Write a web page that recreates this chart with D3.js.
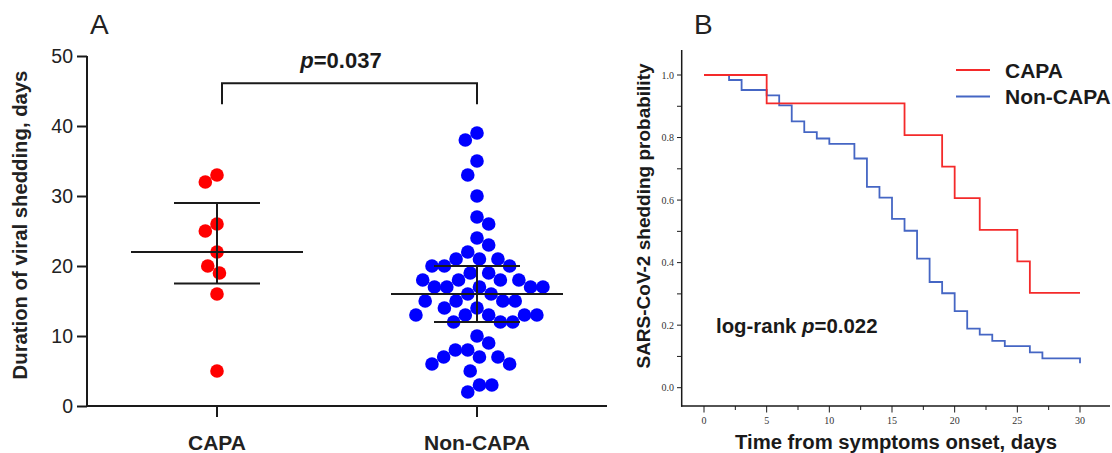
<!DOCTYPE html>
<html>
<head>
<meta charset="utf-8">
<script src="https://cdn.jsdelivr.net/npm/d3@7"></script>
<style>
  body { margin: 0; background: #fff; }
  text { font-family: 'Liberation Sans', Arial, sans-serif; }
</style>
</head>
<body>
<svg id="chart" width="1112" height="453"></svg>
<script>
// panel A: duration of viral shedding (days), one value per patient
var groups = ['CAPA', 'Non-CAPA']
var capaDays = [33, 32, 26, 25, 22, 20, 19, 16, 5]
var nonCapaDays = [39, 38, 35, 33, 30, 27, 26, 24, 23, 22,
  21, 21, 21, 20, 20, 20, 19, 19, 18, 18, 18, 18,
  17, 17, 17, 17, 17, 16, 16, 15, 15, 15, 15, 14, 14,
  13, 13, 13, 13, 13, 12, 12, 12, 10, 9, 8, 8, 7, 7, 7,
  6, 6, 5, 3, 3, 2]
var yTicksA = [0, 10, 20, 30, 40, 50]
var pValueA = '0.037'

// panel B: Kaplan-Meier steps (time in days, shedding probability)
var capaTime = [0, 5, 16, 19, 20, 22, 25, 26, 30]
var capaSurv = [1.0, 0.909, 0.808, 0.707, 0.606, 0.505, 0.404, 0.303, 0.303]
var nonCapaTime = [0, 2, 3, 5, 6, 7, 8, 9, 10, 12, 13, 14, 15, 16, 17, 18, 19, 20, 21, 22, 23, 24, 26, 27, 30]
var nonCapaSurv = [1.0, 0.984, 0.952, 0.935, 0.903, 0.852, 0.817, 0.797, 0.78, 0.733, 0.642, 0.608,
  0.54, 0.502, 0.413, 0.338, 0.302, 0.245, 0.189, 0.17, 0.15, 0.133, 0.113, 0.094, 0.078]
var xTicksB = [0, 5, 10, 15, 20, 25, 30]
var yTicksB = [0, 0.2, 0.4, 0.6, 0.8, 1.0]
var pValueB = '0.022'

var svg = d3.select('#chart')
var ink = '#1a1a1a'

// ---------- panel A ----------
var yA = d3.scaleLinear().domain([0, 50]).range([406, 56])
var xA = d3.scalePoint().domain(groups).range([217, 477])

var gA = svg.append('g')

var axisY = gA.append('g')
  .attr('transform', 'translate(87,0)')
  .call(d3.axisLeft(yA).tickValues(yTicksA).tickSize(10).tickSizeOuter(0).tickPadding(4))
axisY.selectAll('path, line').attr('stroke', ink).attr('stroke-width', 2)
axisY.selectAll('text').attr('fill', '#222').style('font-size', '19.5px')
axisY.select('.domain').attr('d', 'M0,' + (yA(0) + 1) + 'V' + yA(50))

gA.append('line')
  .attr('x1', 86).attr('x2', 607)
  .attr('y1', yA(0)).attr('y2', yA(0))
  .attr('stroke', ink).attr('stroke-width', 2)

gA.selectAll('.xtickA')
  .data(groups)
  .enter()
  .append('line')
  .attr('x1', function(d) { return xA(d) })
  .attr('x2', function(d) { return xA(d) })
  .attr('y1', yA(0))
  .attr('y2', yA(0) + 11)
  .attr('stroke', ink)
  .attr('stroke-width', 2)

gA.selectAll('.xlabA')
  .data(groups)
  .enter()
  .append('text')
  .attr('x', function(d) { return xA(d) })
  .attr('y', 450)
  .attr('text-anchor', 'middle')
  .style('font-size', '21px')
  .style('font-weight', 'bold')
  .attr('fill', '#222')
  .text(function(d) { return d })

gA.append('text')
  .attr('transform', 'translate(27,225) rotate(-90)')
  .attr('text-anchor', 'middle')
  .style('font-size', '20.3px')
  .style('font-weight', 'bold')
  .attr('fill', '#222')
  .text('Duration of viral shedding, days')

gA.append('text')
  .attr('x', 90).attr('y', 34)
  .style('font-size', '28px')
  .attr('fill', '#222')
  .text('A')

// beeswarm: each dot goes as close to the group centre as it can,
// rows a few days apart still push each other sideways (Prism-like spread)
var R = 6.8
var DX = 12.4
var DY = 21
function hits(dx, dy) {
  return (dx * dx) / (DX * DX) + (dy * dy) / (DY * DY) < 0.999
}
function swarm(values, cx) {
  var placed = []
  values.slice().sort(function(a, b) { return b - a }).forEach(function(v, i) {
    var y = yA(v)
    var cands = [0]
    placed.forEach(function(p) {
      var dy = Math.abs(p.y - y)
      if (dy < DY) {
        var dx = DX * Math.sqrt(1 - (dy * dy) / (DY * DY))
        cands.push(p.dx - dx, p.dx + dx)
      }
    })
    var side = i % 2 === 0 ? -1 : 1
    cands.sort(function(a, b) {
      var d = Math.abs(a) - Math.abs(b)
      if (Math.abs(d) > 0.01) return d
      return side * (a - b)
    })
    var best = cands.find(function(c) {
      return placed.every(function(p) { return !hits(p.dx - c, p.y - y) })
    })
    placed.push({ v: v, y: y, dx: best, x: cx + best })
  })
  return placed
}

// Prism-style quartiles (median of each half, excluding the median for odd n)
function quart(values) {
  var s = values.slice().sort(d3.ascending)
  var n = s.length
  var h = Math.floor(n / 2)
  return {
    med: d3.median(s),
    q1: d3.median(s.slice(0, h)),
    q3: d3.median(s.slice(n % 2 ? h + 1 : h))
  }
}

var groupData = [
  { name: 'CAPA', values: capaDays, color: '#ff0000' },
  { name: 'Non-CAPA', values: nonCapaDays, color: '#0000ff' }
]

groupData.forEach(function(g) {
  var cx = xA(g.name)
  gA.append('g')
    .selectAll('circle')
    .data(swarm(g.values, cx))
    .enter()
    .append('circle')
    .attr('cx', function(d) { return d.x })
    .attr('cy', function(d) { return d.y })
    .attr('r', R)
    .attr('fill', g.color)

  var q = quart(g.values)
  var st = gA.append('g').attr('stroke', ink).attr('stroke-width', 2)
  st.append('line').attr('x1', cx - 86).attr('x2', cx + 86).attr('y1', yA(q.med)).attr('y2', yA(q.med))
  st.append('line').attr('x1', cx - 43).attr('x2', cx + 43).attr('y1', yA(q.q1)).attr('y2', yA(q.q1))
  st.append('line').attr('x1', cx - 43).attr('x2', cx + 43).attr('y1', yA(q.q3)).attr('y2', yA(q.q3))
  st.append('line').attr('x1', cx).attr('x2', cx).attr('y1', yA(q.q1)).attr('y2', yA(q.q3))
})

// significance bracket
var bx1 = xA('CAPA') + 5, bx2 = xA('Non-CAPA')
gA.append('path')
  .attr('d', 'M' + bx1 + ',' + yA(43.1) + 'V' + yA(46.1) + 'H' + bx2 + 'V' + yA(43.1))
  .attr('fill', 'none')
  .attr('stroke', ink)
  .attr('stroke-width', 2)

var pt = gA.append('text')
  .attr('x', 341).attr('y', 68)
  .attr('text-anchor', 'middle')
  .style('font-size', '22px')
  .style('font-weight', 'bold')
  .attr('fill', '#1a1a1a')
pt.append('tspan').style('font-style', 'italic').text('p')
pt.append('tspan').text('=' + pValueA)

// ---------- panel B ----------
var xB = d3.scaleLinear().domain([0, 30]).range([704, 1080])
var yB = d3.scaleLinear().domain([0, 1]).range([387.7, 75])
var gB = svg.append('g')

var axB = gB.append('g').attr('stroke', ink).attr('stroke-width', 1.5)
axB.append('line').attr('x1', 681.7).attr('x2', 681.7).attr('y1', 50).attr('y2', 406.7)
axB.append('line').attr('x1', 681).attr('x2', 1110).attr('y1', 406).attr('y2', 406)

axB.selectAll('.ytB')
  .data(d3.range(0, 11).map(function(i) { return i / 10 }))
  .enter()
  .append('line')
  .attr('x1', 677).attr('x2', 681.7)
  .attr('y1', function(d) { return yB(d) })
  .attr('y2', function(d) { return yB(d) })
  .attr('stroke-width', 1)

axB.selectAll('.xtB')
  .data(d3.range(0, 13).map(function(i) { return i * 2.5 }))
  .enter()
  .append('line')
  .attr('x1', function(d) { return xB(d) })
  .attr('x2', function(d) { return xB(d) })
  .attr('y1', 406)
  .attr('y2', function(d) { return d % 5 === 0 ? 412.5 : 410 })
  .attr('stroke-width', 1)

gB.selectAll('.ylB')
  .data(yTicksB)
  .enter()
  .append('text')
  .attr('x', 674)
  .attr('y', function(d) { return yB(d) + 3.5 })
  .attr('text-anchor', 'end')
  .style('font-family', "'Liberation Serif', 'Times New Roman', serif")
  .style('font-size', '10px')
  .attr('fill', '#333')
  .text(d3.format('.1f'))

gB.selectAll('.xlB')
  .data(xTicksB)
  .enter()
  .append('text')
  .attr('x', function(d) { return xB(d) })
  .attr('y', 424)
  .attr('text-anchor', 'middle')
  .style('font-family', "'Liberation Serif', 'Times New Roman', serif")
  .style('font-size', '10px')
  .attr('fill', '#333')
  .text(function(d) { return d })

gB.append('text')
  .attr('transform', 'translate(650,216) rotate(-90)')
  .attr('text-anchor', 'middle')
  .style('font-size', '19px')
  .style('font-weight', 'bold')
  .attr('fill', '#1a1a1a')
  .text('SARS-CoV-2 shedding probability')

gB.append('text')
  .attr('x', 896).attr('y', 449)
  .attr('text-anchor', 'middle')
  .style('font-size', '20.3px')
  .style('font-weight', 'bold')
  .attr('fill', '#1a1a1a')
  .text('Time from symptoms onset, days')

gB.append('text')
  .attr('x', 694).attr('y', 34)
  .style('font-size', '28px')
  .attr('fill', '#222')
  .text('B')

var lr = gB.append('text')
  .attr('x', 716).attr('y', 333)
  .style('font-size', '20.4px')
  .style('font-weight', 'bold')
  .attr('fill', '#1a1a1a')
lr.append('tspan').text('log-rank ')
lr.append('tspan').style('font-style', 'italic').text('p')
lr.append('tspan').text('=' + pValueB)

var km = d3.line()
  .x(function(d) { return xB(d[0]) })
  .y(function(d) { return yB(d[1]) })
  .curve(d3.curveStepAfter)

var curves = [
  { name: 'CAPA', time: capaTime, surv: capaSurv, color: '#f42a2a' },
  { name: 'Non-CAPA', time: nonCapaTime, surv: nonCapaSurv, color: '#4566c4' }
]

gB.selectAll('.km')
  .data(curves.slice().reverse())
  .enter()
  .append('path')
  .attr('d', function(c) { return km(d3.zip(c.time, c.surv)) })
  .attr('fill', 'none')
  .attr('stroke', function(c) { return c.color })
  .attr('stroke-width', 1.8)

var leg = gB.selectAll('.leg')
  .data(curves)
  .enter()
  .append('g')
  .attr('transform', function(c, i) { return 'translate(956,' + (70 + i * 26.5) + ')' })
leg.append('line')
  .attr('x1', 0).attr('x2', 34)
  .attr('stroke', function(c) { return c.color })
  .attr('stroke-width', 2.2)
leg.append('text')
  .attr('x', 49).attr('y', 7.5)
  .style('font-size', '21px')
  .style('font-weight', 'bold')
  .attr('fill', '#1a1a1a')
  .text(function(c) { return c.name })
</script>
</body>
</html>
